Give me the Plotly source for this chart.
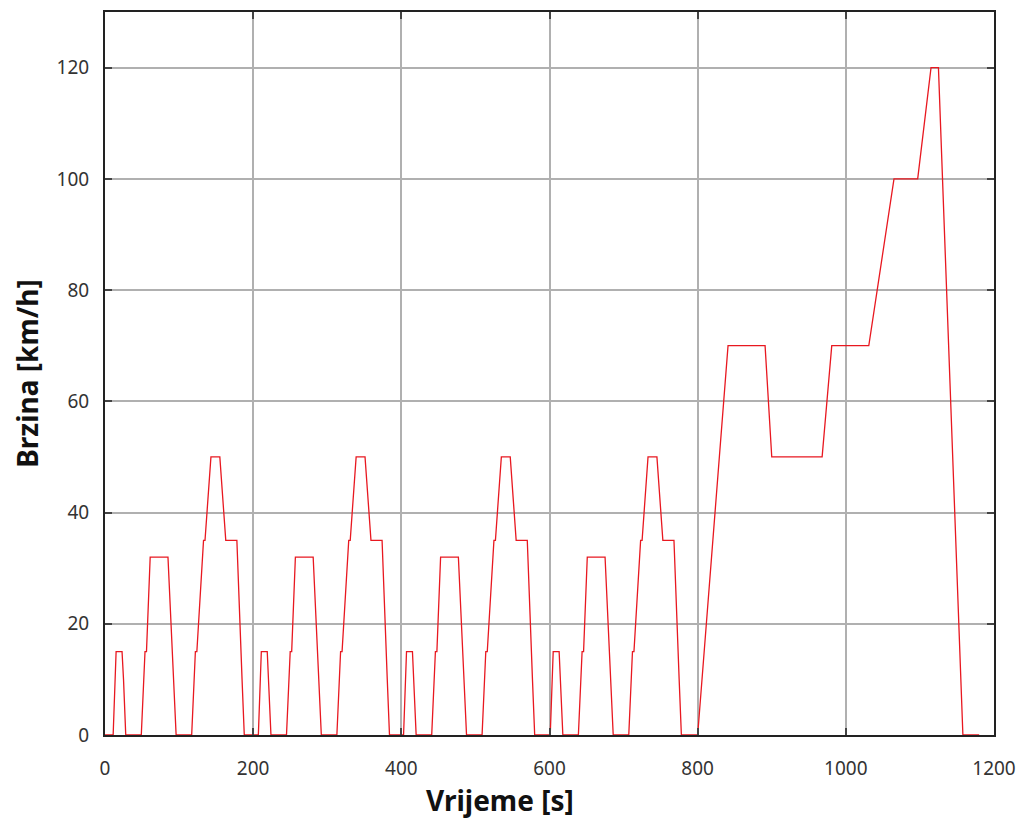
import plotly.graph_objects as go

# Time [s] and speed [km/h] breakpoints (NEDC-like cycle)
vrijeme = [
    0, 11, 15, 23, 25, 28, 49, 54, 56, 61, 85, 93, 96, 117, 122, 124, 133, 135, 143, 155, 163, 176, 178, 185, 188,
    207, 211, 219, 221, 224, 245, 250, 252, 257, 281, 289, 292, 313, 318, 320, 329, 331, 339, 351, 359, 372, 374, 381, 384,
    403, 407, 415, 417, 420, 441, 446, 448, 453, 477, 485, 488, 509, 514, 516, 525, 527, 535, 547, 555, 568, 570, 577, 580,
    601, 605, 613, 615, 618, 639, 644, 646, 651, 675, 683, 686, 707, 712, 714, 723, 725, 733, 745, 753, 766, 768, 775, 778,
    800, 841, 891, 900, 968, 981, 1031, 1065, 1097, 1115, 1125, 1158, 1180,
]
brzina = [
    0, 0, 15, 15, 10, 0, 0, 15, 15, 32, 32, 10, 0, 0, 15, 15, 35, 35, 50, 50, 35, 35, 35, 10, 0,
    0, 15, 15, 10, 0, 0, 15, 15, 32, 32, 10, 0, 0, 15, 15, 35, 35, 50, 50, 35, 35, 35, 10, 0,
    0, 15, 15, 10, 0, 0, 15, 15, 32, 32, 10, 0, 0, 15, 15, 35, 35, 50, 50, 35, 35, 35, 10, 0,
    0, 15, 15, 10, 0, 0, 15, 15, 32, 32, 10, 0, 0, 15, 15, 35, 35, 50, 50, 35, 35, 35, 10, 0,
    0, 70, 70, 50, 50, 70, 70, 100, 100, 120, 120, 0, 0,
]

x_ticks = [0, 200, 400, 600, 800, 1000, 1200]
y_ticks = [0, 20, 40, 60, 80, 100, 120]
x_title = "Vrijeme [s]"
y_title = "Brzina [km/h]"

fig = go.Figure()
fig.add_trace(go.Scatter(
    x=vrijeme, y=brzina, mode="lines",
    line=dict(color="rgb(232,24,32)", width=1.3),
    showlegend=False, hoverinfo="x+y",
))

font_family = "Noto Sans, DejaVu Sans, sans-serif"
axis_common = dict(
    showgrid=True, gridcolor="#b0b0b0", gridwidth=1.6,
    showline=True, linecolor="#222222", linewidth=2, mirror="ticks",
    ticks="inside", ticklen=7, tickwidth=2, tickcolor="#444444",
    zeroline=False, automargin=False, layer="above traces",
    tickfont=dict(family=font_family, size=19, color="#333333"),
)

fig.update_layout(
    width=1017, height=812,
    margin=dict(l=97, r=31, t=4, b=85),
    paper_bgcolor="white", plot_bgcolor="white",
    xaxis=dict(range=[0, 1200], tickvals=x_ticks, ticklabelstandoff=15, **axis_common),
    yaxis=dict(
        range=[0, 130], tickvals=y_ticks, ticklabelstandoff=10,
        title=dict(text="<b>" + y_title + "</b>", standoff=10,
                   font=dict(family=font_family, size=28, color="#111111")),
        **axis_common,
    ),
    annotations=[dict(
        text="<b>" + x_title + "</b>", xref="paper", yref="paper",
        x=0.444, y=-0.09, xanchor="center", yanchor="middle", showarrow=False,
        font=dict(family=font_family, size=28, color="#111111"),
    )],
)

fig.write_html("out.html")
